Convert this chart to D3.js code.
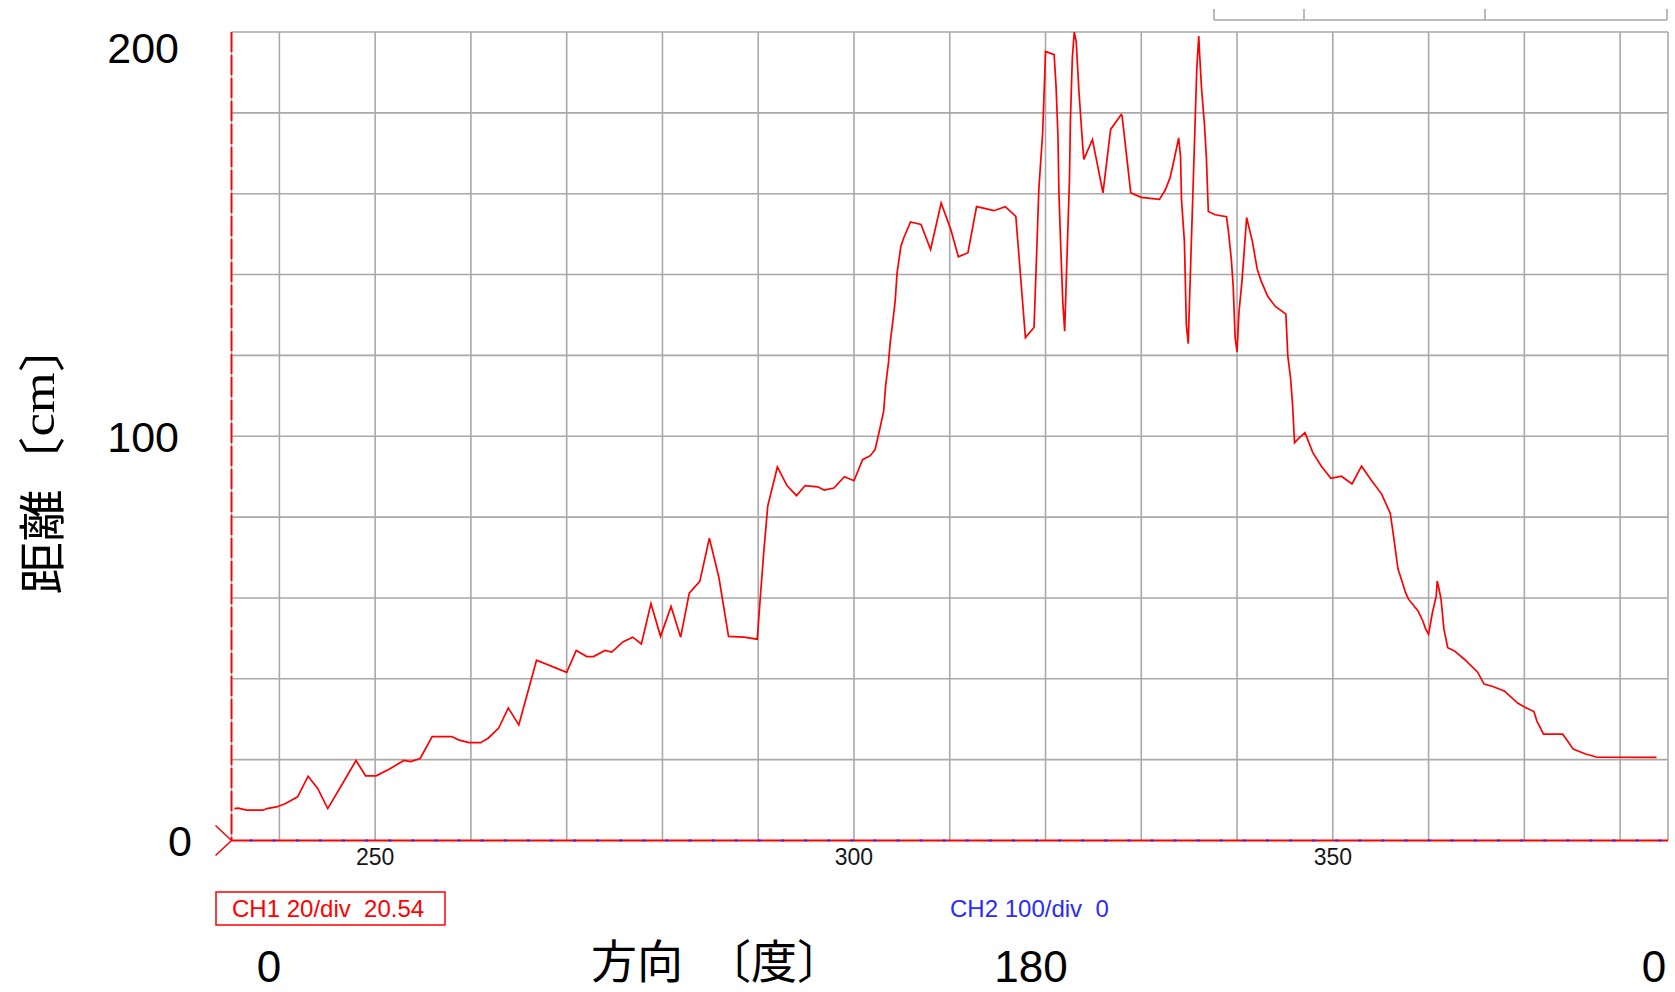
<!DOCTYPE html>
<html>
<head>
<meta charset="utf-8">
<script src="https://cdn.jsdelivr.net/npm/d3@7"></script>
<style>
  html, body { margin: 0; padding: 0; background: #ffffff; }
  svg { display: block; }
</style>
</head>
<body>
<svg id="chart" width="1675" height="992"></svg>
<script>
// Scan position (horizontal axis units)
const angles = [
  235.3, 235.7, 236.6, 238.3, 238.7, 239.7, 240.6, 241.9, 243.0, 244.0,
  245.05, 246.6, 248.0, 249.0, 250.1, 251.5, 253.0, 253.7, 254.7, 255.95,
  258.0, 258.7, 259.8, 261.0, 261.8, 262.9, 263.9, 265.0, 266.85, 270.0,
  271.0, 272.1, 272.8, 274.0, 274.7, 275.9, 276.9, 277.8, 278.8, 279.8,
  280.9, 281.9, 282.8, 283.9, 284.9, 285.9, 286.9, 288.5, 289.9, 290.2,
  290.6, 291.0, 292.0, 293.0, 294.0, 294.9, 296.2, 296.9, 297.9, 299.0,
  300.0, 300.9, 301.7, 302.2, 302.6, 303.1, 303.3, 303.6, 303.8, 304.1,
  304.3, 304.5, 304.9, 305.2, 305.9, 307.0, 308.0, 309.1, 310.1, 310.9,
  311.9, 312.8, 313.4, 314.6, 315.8, 316.9, 317.2, 317.6, 317.9, 318.8,
  319.1, 319.3, 319.7, 319.9, 320.0, 320.9, 321.1, 321.3, 321.4, 321.6,
  321.8, 322.0, 322.1, 322.3, 322.5, 322.6, 322.8, 323.0, 323.2, 323.5,
  323.9, 324.0, 324.9, 326.0, 326.8, 327.9, 328.0, 328.9, 330.0, 331.9,
  332.5, 333.0, 333.5, 333.9, 334.1, 334.2, 334.5, 334.6, 334.7, 334.9,
  335.0, 335.2, 335.4, 335.6, 335.8, 336.0, 336.1, 336.3, 336.6, 336.8,
  337.0, 337.7, 338.9, 339.1, 339.4, 339.6, 339.7, 339.8, 340.0, 340.2,
  340.5, 340.7, 341.0, 341.2, 341.6, 342.1, 342.5, 343.2, 344.0, 345.1,
  345.3, 345.6, 345.8, 346.0, 346.4, 347.1, 347.9, 348.8, 349.8, 350.9,
  352.0, 353.0, 354.0, 355.1, 356.0, 356.3, 356.8, 357.2, 357.6, 357.9,
  358.9, 359.4, 359.7, 360.0, 360.4, 360.8, 360.9, 361.1, 361.3, 361.6,
  362.0, 362.7, 363.7, 365.1, 365.8, 366.7, 367.9, 369.3, 370.1, 371.0,
  371.3, 372.0, 374.0, 374.5, 375.1, 376.4, 377.6, 383.8
];

// CH1 distance readings [cm]
const distances = [
  7.9, 8.0, 7.5, 7.5, 7.9, 8.3, 9.1, 10.8, 15.9, 12.9,
  7.9, 14.1, 19.8, 16.0, 16.0, 17.7, 19.8, 19.5, 20.3, 25.7,
  25.7, 24.9, 24.2, 24.2, 25.3, 27.8, 32.8, 28.6, 44.6, 41.6,
  47.0, 45.5, 45.5, 47.0, 46.6, 49.2, 50.3, 48.6, 58.6, 50.5,
  57.9, 50.3, 61.2, 64.1, 74.8, 65.0, 50.5, 50.3, 49.8, 59.6,
  72.0, 82.8, 92.4, 87.8, 85.3, 87.8, 87.5, 86.7, 87.2, 90.0,
  89.0, 94.2, 95.2, 96.7, 100.8, 106.2, 112.4, 118.2, 123.6, 129.3,
  133.4, 140.4, 147.0, 149.1, 153.0, 152.4, 146.2, 157.7, 151.2, 144.4,
  145.4, 156.8, 156.5, 155.8, 156.8, 154.4, 145.4, 133.4, 124.4, 126.9,
  147.0, 161.0, 175.0, 188.2, 195.2, 194.4, 186.6, 174.2, 160.2, 146.2,
  133.4, 126.0, 133.4, 148.7, 163.5, 178.3, 193.6, 200.0, 197.7, 184.9,
  171.3, 168.5, 173.4, 160.2, 175.9, 179.6, 179.2, 160.2, 159.1, 158.6,
  160.9, 163.9, 169.2, 173.8, 169.2, 158.5, 148.2, 138.5, 127.7, 122.9,
  130.7, 145.8, 160.9, 176.1, 191.2, 199.0, 194.1, 185.8, 177.0, 168.8,
  155.6, 154.8, 154.3, 150.7, 143.8, 137.0, 130.7, 124.3, 120.9, 130.7,
  138.0, 144.3, 154.1, 152.1, 148.2, 141.4, 138.5, 134.6, 132.1, 130.2,
  119.9, 114.1, 107.7, 98.4, 99.4, 100.9, 96.0, 92.6, 89.6, 90.1,
  88.2, 92.6, 89.2, 85.7, 80.9, 76.0, 67.2, 64.3, 61.3, 59.7,
  56.8, 54.3, 52.3, 51.0, 56.4, 60.5, 64.2, 62.1, 59.7, 52.3,
  47.7, 46.9, 44.9, 41.7, 38.7, 38.1, 37.0, 34.0, 32.9, 31.9,
  29.6, 26.3, 26.3, 24.7, 22.6, 21.4, 20.6, 20.54
];

const xTickValues = [250, 300, 350];
const yTickValues = [0, 100, 200];
const bearingLabels = ["0", "180", "0"];
const ch1Label = "CH1 20/div  20.54";
const ch2Label = "CH2 100/div  0";
const yTitleParts = ["距離", "〔", "cm", "〕"];
const xTitleParts = ["方向", "〔度〕"];

// ---- layout ----
const L = 231.5, R = 1668, T = 32, B = 840.5;
const gridColor = "#a9a9a9";
const traceRed = "#ff0000";
const traceBlue = "#2a2aff";

const svg = d3.select("#chart");

const x = d3.scaleLinear().domain([235, 385]).range([L, R]);
const y = d3.scaleLinear().domain([0, 200]).range([B, T]);

// grid (10 divisions vertically, 10-unit steps horizontally)
const grid = svg.append("g").attr("stroke", gridColor).attr("stroke-width", 1.6);
grid.selectAll("line.v")
  .data(d3.range(240, 385, 10))
  .join("line")
  .attr("x1", d => x(d)).attr("x2", d => x(d))
  .attr("y1", T).attr("y2", B);
grid.selectAll("line.h")
  .data(d3.range(20, 201, 20))
  .join("line")
  .attr("x1", L).attr("x2", R)
  .attr("y1", d => y(d)).attr("y2", d => y(d));
// right border
grid.append("line").attr("x1", R).attr("x2", R).attr("y1", T).attr("y2", B);

// cursor bracket above the plot
const br = svg.append("g").attr("stroke", gridColor).attr("stroke-width", 1.6).attr("fill", "none");
br.append("line").attr("x1", 1214).attr("x2", 1667).attr("y1", 20).attr("y2", 20);
[1214, 1304, 1485, 1667].forEach(px => {
  br.append("line").attr("x1", px).attr("x2", px).attr("y1", 9).attr("y2", 20);
});

// left axis: gray base with red dashed channel line
svg.append("line").attr("x1", L).attr("x2", L).attr("y1", T).attr("y2", B)
  .attr("stroke", gridColor).attr("stroke-width", 1.6);
svg.append("line").attr("x1", L).attr("x2", L).attr("y1", T).attr("y2", B)
  .attr("stroke", traceRed).attr("stroke-width", 1.8)
  .attr("stroke-dasharray", "20 3");

// bottom axis: CH1 zero line in red with CH2 (blue dotted) over it
svg.append("line").attr("x1", L).attr("x2", R).attr("y1", B).attr("y2", B)
  .attr("stroke", traceRed).attr("stroke-width", 2);
svg.append("line").attr("x1", L).attr("x2", R).attr("y1", B).attr("y2", B)
  .attr("stroke", traceBlue).attr("stroke-width", 2)
  .attr("stroke-dasharray", "3 20.1").attr("stroke-dashoffset", 5);

// channel marker ">" at zero level
svg.append("polyline")
  .attr("points", `${L - 16},${B - 15} ${L},${B} ${L - 16},${B + 15}`)
  .attr("fill", "none").attr("stroke", traceRed).attr("stroke-width", 1.5);

// CH1 trace
const pts = angles.map((a, i) => [a, distances[i]]);
const line = d3.line().x(d => x(d[0])).y(d => y(d[1]));
svg.append("path")
  .attr("d", line(pts))
  .attr("fill", "none")
  .attr("stroke", traceRed)
  .attr("stroke-width", 1.7)
  .attr("stroke-linejoin", "miter");

// x tick labels
svg.append("g").selectAll("text")
  .data(xTickValues)
  .join("text")
  .attr("x", d => x(d))
  .attr("y", B + 24)
  .attr("text-anchor", "middle")
  .attr("font-family", "'Liberation Sans', Arial, sans-serif")
  .attr("font-size", 23)
  .attr("fill", "#161616")
  .text(d => d);

// y tick labels
svg.append("g").selectAll("text")
  .data(yTickValues)
  .join("text")
  .attr("x", d => d === 0 ? 192 : 179)
  .attr("y", d => Math.max(y(d), T + 16))
  .attr("dy", "0.36em")
  .attr("text-anchor", "end")
  .attr("font-family", "'Liberation Sans', Arial, sans-serif")
  .attr("font-size", 43)
  .attr("fill", "#000")
  .text(d => d);

// channel readouts
svg.append("rect")
  .attr("x", 216).attr("y", 892).attr("width", 229).attr("height", 33)
  .attr("fill", "none").attr("stroke", traceRed).attr("stroke-width", 1.5);
svg.append("text")
  .attr("x", 232).attr("y", 917)
  .attr("font-family", "'Liberation Sans', Arial, sans-serif")
  .attr("font-size", 24)
  .attr("fill", traceRed)
  .style("white-space", "pre")
  .attr("xml:space", "preserve")
  .text(ch1Label);
svg.append("text")
  .attr("x", 950).attr("y", 917)
  .attr("font-family", "'Liberation Sans', Arial, sans-serif")
  .attr("font-size", 24)
  .attr("fill", traceBlue)
  .style("white-space", "pre")
  .attr("xml:space", "preserve")
  .text(ch2Label);

// direction labels under the readouts
const bearingX = [269, 1031, 1654];
svg.append("g").selectAll("text")
  .data(bearingLabels)
  .join("text")
  .attr("x", (d, i) => bearingX[i])
  .attr("y", 982)
  .attr("text-anchor", "middle")
  .attr("font-family", "'Liberation Sans', Arial, sans-serif")
  .attr("font-size", 44)
  .attr("fill", "#000")
  .text(d => d);

// axis titles
const xt = svg.append("text")
  .attr("x", 717).attr("y", 978)
  .attr("text-anchor", "middle")
  .attr("font-family", "'Noto Sans CJK JP', sans-serif")
  .attr("font-size", 46)
  .attr("fill", "#000");
xt.append("tspan").text(xTitleParts[0]);
xt.append("tspan").attr("dx", 22).text(xTitleParts[1]);

const yt = svg.append("text")
  .attr("transform", "translate(38,457) rotate(-90) scale(1.12,1)")
  .attr("dominant-baseline", "central")
  .attr("text-anchor", "middle")
  .attr("font-family", "'Noto Sans CJK JP', sans-serif")
  .attr("font-size", 47)
  .attr("fill", "#000");
yt.append("tspan").text(yTitleParts[0]);
yt.append("tspan").text(yTitleParts[1]);
yt.append("tspan").attr("font-family", "'Liberation Serif', 'Times New Roman', serif").text(yTitleParts[2]);
yt.append("tspan").text(yTitleParts[3]);
</script>
</body>
</html>
